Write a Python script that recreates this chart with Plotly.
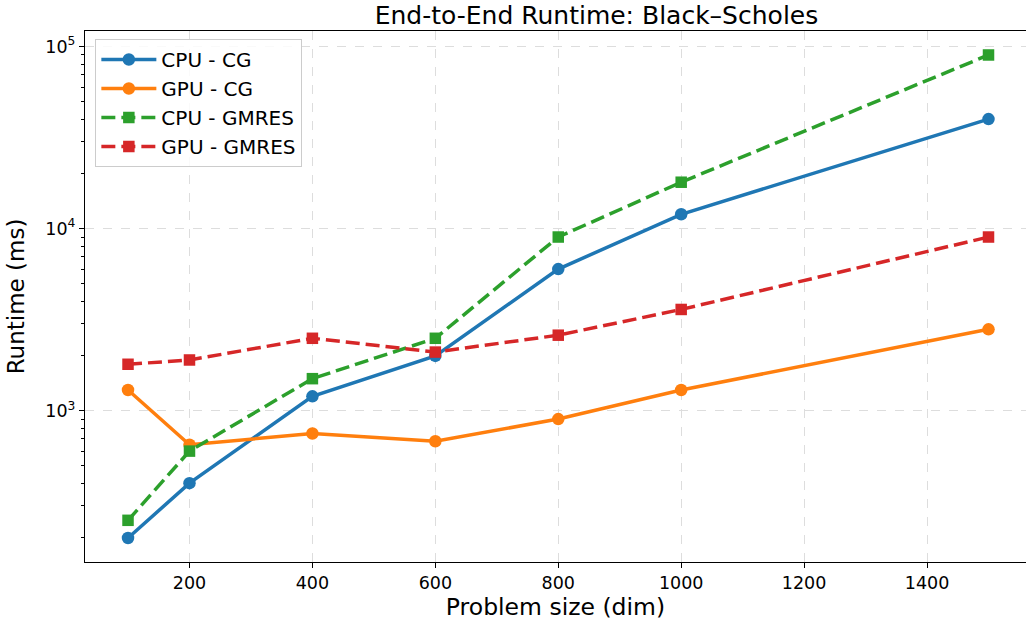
import plotly.graph_objects as go

sizes = [100, 200, 400, 600, 800, 1000, 1500]
cpu_cg = [200, 400, 1200, 2000, 6000, 12000, 40000]
gpu_cg = [1300, 650, 750, 680, 900, 1300, 2800]
cpu_gmres = [250, 600, 1500, 2500, 9000, 18000, 90000]
gpu_gmres = [1800, 1900, 2500, 2100, 2600, 3600, 9000]

x_ticks = [200, 400, 600, 800, 1000, 1200, 1400]
y_ticks = [1000, 10000, 100000]
y_ticktext = ["10<sup>3</sup>", "10<sup>4</sup>", "10<sup>5</sup>"]

series = [
    ("CPU - CG", cpu_cg, "#1f77b4", "circle", "solid"),
    ("GPU - CG", gpu_cg, "#ff7f0e", "circle", "solid"),
    ("CPU - GMRES", cpu_gmres, "#2ca02c", "square", "14px,6px"),
    ("GPU - GMRES", gpu_gmres, "#d62728", "square", "14px,6px"),
]

fig = go.Figure()
for name, vals, color, sym, dash in series:
    fig.add_trace(go.Scatter(
        x=sizes, y=vals, name=name, mode="lines+markers",
        line=dict(color=color, width=3.5, dash=dash),
        marker=dict(symbol=sym, size=12.5 if sym == "circle" else 11.5, color=color),
    ))

font = "DejaVu Sans, Verdana, sans-serif"
fig.update_layout(
    width=1026, height=627,
    margin=dict(l=85, r=0, t=31, b=65),
    paper_bgcolor="white", plot_bgcolor="white",
    font=dict(family=font, color="black", size=17),
    title=dict(text="End-to-End Runtime: Black–Scholes", x=0.5435, xanchor="center",
               xref="paper", y=0.976, yanchor="middle", yref="container",
               font=dict(size=25), automargin=False),
    legend=dict(x=0.011, y=0.985, xanchor="left", yanchor="top",
                bgcolor="rgba(255,255,255,0.85)", bordercolor="#cccccc", borderwidth=1,
                font=dict(size=20), tracegroupgap=0, itemwidth=55),
    showlegend=True,
)
fig.update_xaxes(
    range=[30, 1561], tickvals=x_ticks, ticks="outside", ticklen=5, tickwidth=1.2,
    tickcolor="black", showline=True, linecolor="black", linewidth=1.3, mirror=True,
    showgrid=True, gridcolor="#dddddd", griddash="dash", gridwidth=1, zeroline=False,
    title=dict(text="Problem size (dim)", font=dict(size=23.5), standoff=6),
    tickfont=dict(size=17.5), automargin=False,
)
fig.update_yaxes(
    type="log", range=[2.169, 5.086], tickvals=y_ticks, ticktext=y_ticktext,
    ticks="outside", ticklen=5, tickwidth=1.2, tickcolor="black",
    showline=True, linecolor="black", linewidth=1.3, mirror=True,
    showgrid=True, gridcolor="#dddddd", griddash="dash", gridwidth=1, zeroline=False,
    minor=dict(ticks="outside", ticklen=3, tickcolor="black", dtick="D1", showgrid=False),
    title=dict(text="Runtime (ms)", font=dict(size=23), standoff=14),
    tickfont=dict(size=17.5), automargin=False,
)
fig.write_html("out.html", config={"displayModeBar": False},
               post_script="document.body.style.margin='0';document.body.style.overflow='hidden';")
